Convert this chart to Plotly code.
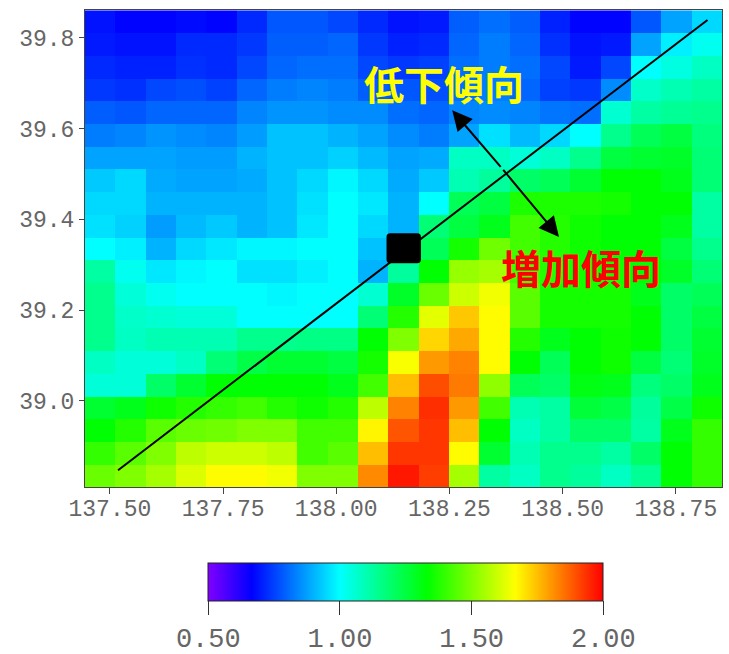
import plotly.graph_objects as go

W, H = 729, 654

# Cell centres
lon_start, lon_step = 137.4785, 0.067
lat_start, lat_step = 38.835, 0.05

# Grid values, first list = top row (north)
rows_top_down = [
 [.69,.67,.67,.68,.67,.72,.78,.78,.76,.72,.69,.70,.79,.81,.79,.71,.67,.67,.78,.88,.95],
 [.70,.69,.69,.72,.72,.74,.79,.79,.80,.74,.71,.72,.80,.83,.80,.73,.69,.70,.88,.98,1.02],
 [.72,.71,.71,.73,.72,.76,.80,.81,.81,.76,.74,.75,.81,.83,.81,.76,.70,.76,1.0,1.04,1.08],
 [.74,.73,.76,.77,.75,.80,.83,.84,.83,.79,.78,.77,.81,.83,.80,.75,.74,.85,1.07,1.10,1.12],
 [.79,.78,.80,.80,.80,.84,.86,.86,.85,.85,.81,.80,.84,.85,.84,.82,.81,1.06,1.12,1.14,1.15],
 [.83,.84,.86,.85,.84,.87,.92,.92,.90,.88,.85,.83,.88,.96,.91,.95,1.0,1.15,1.22,1.25,1.17],
 [.88,.88,.88,.87,.87,.90,.92,.92,.94,.91,.88,.89,1.08,1.08,1.05,1.08,1.15,1.25,1.27,1.28,1.18],
 [.93,.95,.89,.88,.88,.89,.92,.95,.99,.95,.89,.93,1.10,1.13,1.20,1.22,1.27,1.33,1.33,1.30,1.18],
 [.95,.95,.90,.90,.90,.90,.92,.96,1.0,.97,.90,1.0,1.22,1.25,1.37,1.37,1.37,1.36,1.33,1.33,1.12],
 [.96,.94,.87,.91,.93,.90,.92,.97,1.0,.95,.90,1.18,1.25,1.30,1.42,1.38,1.35,1.33,1.33,1.30,1.12],
 [1.0,.98,.90,.95,.97,.99,.99,1.0,1.0,.92,1.10,1.22,1.36,1.48,1.42,1.38,1.35,1.33,1.33,1.25,1.15],
 [1.12,1.02,.97,.99,1.0,.96,.96,.98,1.0,.90,1.13,1.33,1.53,1.55,1.42,1.38,1.36,1.36,1.33,1.28,1.18],
 [1.15,1.05,1.02,1.0,1.0,1.0,.99,1.0,1.0,1.06,1.28,1.47,1.60,1.65,1.45,1.36,1.36,1.36,1.30,1.20,1.22],
 [1.15,1.07,1.06,1.05,1.05,1.0,1.0,1.0,1.0,1.18,1.38,1.63,1.74,1.67,1.45,1.36,1.36,1.36,1.33,1.20,1.25],
 [1.15,1.08,1.10,1.10,1.10,1.15,1.15,1.16,1.16,1.33,1.50,1.72,1.78,1.67,1.38,1.30,1.33,1.35,1.33,1.20,1.27],
 [1.08,1.05,1.05,1.08,1.18,1.24,1.27,1.27,1.25,1.36,1.66,1.80,1.83,1.67,1.33,1.22,1.33,1.35,1.25,1.18,1.28],
 [1.05,1.05,1.20,1.27,1.33,1.33,1.33,1.33,1.30,1.42,1.75,1.90,1.84,1.52,1.22,1.20,1.31,1.30,1.17,1.20,1.30],
 [1.27,1.30,1.35,1.38,1.40,1.42,1.38,1.35,1.38,1.58,1.83,1.94,1.80,1.42,1.10,1.12,1.26,1.24,1.13,1.24,1.35],
 [1.33,1.38,1.45,1.47,1.48,1.50,1.50,1.42,1.42,1.68,1.89,1.93,1.75,1.33,1.08,1.12,1.20,1.20,1.12,1.30,1.40],
 [1.40,1.45,1.50,1.58,1.60,1.60,1.58,1.42,1.45,1.75,1.93,1.93,1.67,1.27,1.10,1.15,1.15,1.12,1.20,1.33,1.40],
 [1.47,1.50,1.55,1.62,1.67,1.67,1.65,1.50,1.50,1.82,1.97,1.92,1.55,1.12,1.08,1.15,1.13,1.08,1.14,1.33,1.40],
]

x_ticks = [137.50, 137.75, 138.00, 138.25, 138.50, 138.75]
y_ticks = [39.0, 39.2, 39.4, 39.6, 39.8]
bar_ticks = [0.5, 1.0, 1.5, 2.0]

section_lon = [137.518, 138.82]
section_lat = [38.847, 39.839]
site_lon = 138.149
site_lat = 39.336
site_half_lon = 0.038
site_half_lat = 0.033
site_round_lon = 0.008
site_round_lat = 0.008

arrow_mid = (138.366, 39.512)
arrow_up = (138.256, 39.64)
arrow_down = (138.492, 39.361)

label_down = "低下傾向"
label_up = "増加傾向"
label_down_pos = (138.239, 39.700)
label_up_pos = (138.54, 39.295)

colorscale = [
    [0.0, "#8000ff"], [1/9, "#0000ff"], [1/3, "#00ffff"],
    [5/9, "#00ff00"], [7/9, "#ffff00"], [1.0, "#ff0000"],
]

MONO = "Liberation Mono, monospace"
GREY = "#666666"

fig = go.Figure()
fig.add_trace(go.Heatmap(
    z=rows_top_down[::-1], x0=lon_start, dx=lon_step, y0=lat_start, dy=lat_step,
    zmin=0.5, zmax=2.0, colorscale=colorscale, zsmooth=False, hoverinfo="skip",
    colorbar=dict(
        orientation="h", lenmode="pixels", len=395, thicknessmode="pixels", thickness=38,
        x=405.8/W, xanchor="center", y=1-563/H, yanchor="top", xpad=0, ypad=0,
        outlinecolor="#222222", outlinewidth=1, borderwidth=0,
        tickmode="array", tickvals=bar_ticks, ticktext=[f"{v:.2f}" for v in bar_ticks],
        ticks="outside", ticklen=14, tickwidth=1, tickcolor="#333333",
        tickfont=dict(family=MONO, size=27, color=GREY),
    ),
))
fig.add_trace(go.Scatter(x=section_lon, y=section_lat, mode="lines",
                         line=dict(color="black", width=2), hoverinfo="skip", showlegend=False))

x0, x1 = site_lon - site_half_lon, site_lon + site_half_lon
y0, y1 = site_lat - site_half_lat, site_lat + site_half_lat
rx, ry = site_round_lon, site_round_lat
fig.add_shape(type="path", xref="x", yref="y", fillcolor="black", line=dict(width=0),
              path=(f"M {x0+rx} {y0} L {x1-rx} {y0} Q {x1} {y0} {x1} {y0+ry} L {x1} {y1-ry} "
                    f"Q {x1} {y1} {x1-rx} {y1} L {x0+rx} {y1} Q {x0} {y1} {x0} {y1-ry} "
                    f"L {x0} {y0+ry} Q {x0} {y0} {x0+rx} {y0} Z"))

for tip in (arrow_up, arrow_down):
    fig.add_annotation(x=tip[0], y=tip[1], ax=arrow_mid[0], ay=arrow_mid[1],
                       xref="x", yref="y", axref="x", ayref="y", text="", showarrow=True,
                       arrowhead=2, arrowsize=2, arrowwidth=2, arrowcolor="black")
for txt, pos, col in ((label_down, label_down_pos, "#ffff00"), (label_up, label_up_pos, "#ff0000")):
    fig.add_annotation(x=pos[0], y=pos[1], xref="x", yref="y", text=f"<b>{txt}</b>", showarrow=False,
                       font=dict(family="Noto Sans CJK JP", size=40, color=col))

axis_style = dict(showgrid=False, zeroline=False, showline=True, linecolor="#444444", linewidth=1,
                  mirror=True, ticks="outside", tickcolor="#444444", tickwidth=1)
fig.update_layout(
    width=W, height=H, autosize=False,
    margin=dict(l=0, r=0, t=0, b=0, autoexpand=False),
    paper_bgcolor="white", plot_bgcolor="white", showlegend=False,
    xaxis=dict(domain=[85/W, 722/W], range=[137.445, 138.852], tickmode="array", tickvals=x_ticks,
               ticktext=[f"{v:.2f}" for v in x_ticks], ticklen=6, ticklabelstandoff=-6,
               tickfont=dict(family=MONO, size=23, color=GREY), **axis_style),
    yaxis=dict(domain=[1-487/H, 1-10/H], range=[38.81, 39.861], tickmode="array", tickvals=y_ticks,
               ticktext=[f"{v:.1f}" for v in y_ticks], ticklen=5,
               tickfont=dict(family=MONO, size=23, color=GREY), **axis_style),
)
fig.write_html("out.html", post_script="document.body.style.margin='0';", config={"displayModeBar": False})
